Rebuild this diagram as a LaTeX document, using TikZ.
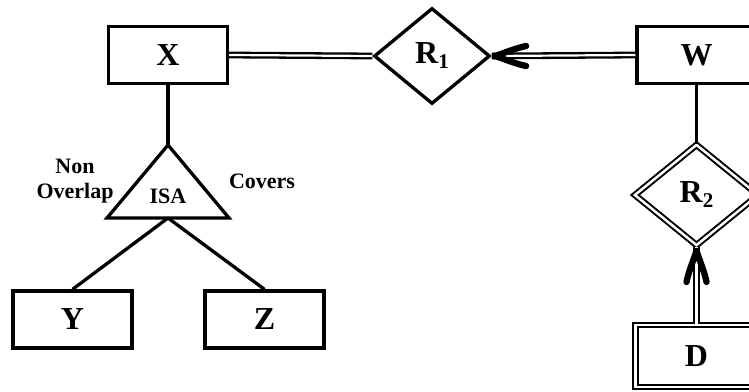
\documentclass[tikz,border=0pt]{standalone}
\usepackage{fontspec}
\setmainfont{Liberation Serif}
\usetikzlibrary{shapes.geometric,arrows.meta,calc}
\begin{document}
\begin{tikzpicture}[x=1pt,y=1pt,
  ent/.style={draw, line width=3.3pt, minimum width=119pt, minimum height=57pt, inner sep=0pt,
    font=\fontsize{32}{32}\selectfont\bfseries},
  dent/.style={ent, double, line width=2pt, double distance=2.2pt, minimum width=122pt, minimum height=62pt},
  rel/.style={draw, diamond, line width=3.3pt, inner sep=0pt, minimum width=116pt, minimum height=96pt,
    font=\fontsize{32}{32}\selectfont\bfseries},
  drel/.style={rel, double, line width=2pt, double distance=2.5pt, minimum width=124pt, minimum height=101pt},
  conn/.style={line width=3.3pt},
  dbl/.style={double, line width=2.3pt, double distance=2.2pt},
  lbl/.style={font=\fontsize{22}{25}\selectfont\bfseries, align=center, inner sep=0pt},
  wing/.style={line width=6.3pt, line cap=round, line join=round}
]
\useasboundingbox (0,0) rectangle (749,-391);
\fill[white] (0,0) rectangle (749,-391);

\node[ent] (X) at (168,-55) {X};
\node[ent] (W) at (696.5,-55) {W};
\node[ent] (Y) at (72.5,-319.5) {Y};
\node[ent] (Z) at (264.5,-319.5) {Z};
\node[rel] (R1) at (432,-56) {R\raisebox{-5pt}{\fontsize{21}{21}\selectfont 1}};
\node[drel] (R2) at (696.5,-195) {R\raisebox{-5pt}{\fontsize{21}{21}\selectfont 2}};
\node[dent] (D) at (696.5,-356) {D};

% ISA triangle
\coordinate (apex) at (168,-145);
\coordinate (bl) at (107,-218);
\coordinate (br) at (229,-218);
\coordinate (bm) at (168,-218);
\draw[conn, line join=miter] (apex) -- (br) -- (bl) -- cycle;
\node[lbl] (isa) at (168,-196) {ISA};
\node[lbl] (nonov) at (75,-181) {Non\\Overlap};
\node[lbl] (cov) at (262,-181) {Covers};

% connectors
\draw[conn] (X.south) -- (apex);
\draw[conn] (bm) -- (Y.north);
\draw[conn] (bm) -- (Z.north);
\draw[dbl] (X.east) -- (R1.west);
\draw[dbl] (W.west) -- (R1.east);
\draw[conn] (W.south) -- (R2.north);
\draw[dbl] (D.north) -- (R2.south);

% arrowheads
\coordinate (t1) at ($(R1.east)+(3.5,0)$);
\draw[wing] ($(t1)+(31,10)$) .. controls ($(t1)+(21,8)$) and ($(t1)+(10,3.4)$) .. (t1)
  .. controls ($(t1)+(10,-3.4)$) and ($(t1)+(21,-8)$) .. ($(t1)+(31,-10)$);
\coordinate (t2) at ($(R2.south)+(0,-4.5)$);
\draw[wing] ($(t2)+(-10,-31)$) .. controls ($(t2)+(-8,-21)$) and ($(t2)+(-3.4,-10)$) .. (t2)
  .. controls ($(t2)+(3.4,-10)$) and ($(t2)+(8,-21)$) .. ($(t2)+(10,-31)$);
\end{tikzpicture}
\end{document}
